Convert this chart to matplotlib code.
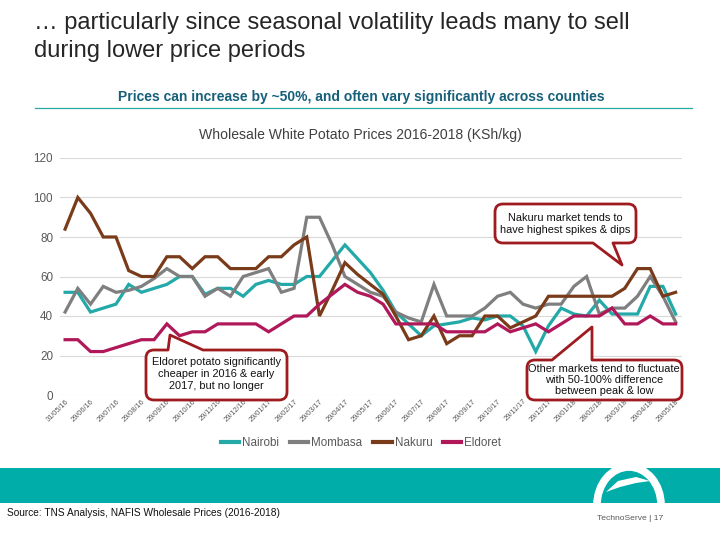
import matplotlib
matplotlib.use('Agg')
import matplotlib.pyplot as plt
from matplotlib.path import Path
from matplotlib.patches import PathPatch, Rectangle, Arc, Polygon
import numpy as np

plt.rcParams['font.family'] = ['Liberation Sans', 'DejaVu Sans']

# ---------------- data ----------------
tick_labels = ['31/05/16', '29/06/16', '29/07/16', '29/08/16', '29/09/16', '29/10/16',
               '29/11/16', '29/12/16', '29/01/17', '28/02/17', '29/03/17', '29/04/17',
               '29/05/17', '29/06/17', '29/07/17', '29/08/17', '29/09/17', '29/10/17',
               '29/11/17', '29/12/17', '29/01/18', '28/02/18', '29/03/18', '29/04/18',
               '29/05/18']

nairobi = [52, 52, 42, 44, 46, 56, 52, 54, 56, 60,
           60, 51, 54, 54, 50, 56, 58, 56, 56, 60,
           60, 68, 76, 69, 62, 53, 42, 36, 30, 35,
           36, 37, 39, 38, 40, 40, 35, 22, 35, 44,
           41, 40, 48, 41, 41, 41, 55, 55, 41]
mombasa = [42, 54, 46, 55, 52, 53, 55, 59, 64, 60,
           60, 50, 54, 50, 60, 62, 64, 52, 54, 90,
           90, 76, 60, 56, 52, 50, 42, 39, 37, 56,
           40, 40, 40, 44, 50, 52, 46, 44, 46, 46,
           55, 60, 41, 44, 44, 50, 60, 50, 37]
nakuru = [84, 100, 92, 80, 80, 63, 60, 60, 70, 70,
          64, 70, 70, 64, 64, 64, 70, 70, 76, 80,
          40, 53, 67, 61, 56, 51, 40, 28, 30, 40,
          26, 30, 30, 40, 40, 34, 37, 40, 50, 50,
          50, 50, 50, 50, 54, 64, 64, 50, 52]
eldoret = [28, 28, 22, 22, 24, 26, 28, 28, 36, 30,
           32, 32, 36, 36, 36, 36, 32, 36, 40, 40,
           46, 51, 56, 52, 50, 46, 36, 36, 36, 36,
           32, 32, 32, 32, 36, 32, 34, 36, 32, 36,
           40, 40, 40, 44, 36, 36, 40, 36, 36]

series_names = ['Nairobi', 'Mombasa', 'Nakuru', 'Eldoret']
series_colors = ['#23A9A8', '#7F7F7F', '#7A3B1A', '#B0185A']

W, H = 720, 540
fig = plt.figure(figsize=(7.2, 5.4), dpi=100)
fig.patch.set_facecolor('white')

def fx(x):
    return x / W

def fy(y):
    return 1 - y / H

# ---------------- header ----------------
fig.text(fx(34), fy(12), '\u2026 particularly since seasonal volatility leads many to sell\nduring lower price periods',
         fontsize=17, color='#262626', ha='left', va='top', linespacing=1.33)
fig.text(fx(361), fy(97), 'Prices can increase by ~50%, and often vary significantly across counties',
         fontsize=10, fontweight='bold', color='#17607A', ha='center', va='center')
fig.add_artist(plt.Line2D([fx(35), fx(692)], [fy(108), fy(108)], color='#2AA9A6', lw=0.9))
fig.text(fx(360), fy(135), 'Wholesale White Potato Prices 2016-2018 (KSh/kg)',
         fontsize=10.1, color='#404040', ha='center', va='center')

# ---------------- chart ----------------
ax = fig.add_axes([fx(60), fy(395), (682 - 60) / W, (395 - 158) / H])
x = np.arange(len(nakuru))
all_series = [nairobi, mombasa, nakuru, eldoret]
for i, (vals, name, col) in enumerate(zip(all_series, series_names, series_colors)):
    ax.plot(x, vals, color=col, lw=2.3, label=name, zorder=2 + i, solid_joinstyle='miter')

ax.set_xlim(-0.4, 48.5)
ax.set_ylim(0, 120)
ax.set_yticks(np.arange(0, 121, 20))
ax.yaxis.grid(True, color='#D9D9D9', lw=0.8)
ax.set_axisbelow(True)
for s in ax.spines.values():
    s.set_visible(False)
ax.tick_params(axis='y', length=0, labelsize=8.4, labelcolor='#595959', pad=5)
ax.set_xticks(np.arange(0, len(nakuru), 2))
ax.set_xticklabels(tick_labels, rotation=45, ha='right', rotation_mode='anchor',
                   fontsize=5.3, color='#595959')
ax.tick_params(axis='x', length=0, pad=2)

leg = fig.legend(loc='center', bbox_to_anchor=(fx(361), fy(443)), ncol=4, frameon=False,
                 fontsize=8.4, handlelength=1.6, handletextpad=0.25, columnspacing=0.9,
                 labelcolor='#595959')
for h in leg.legend_handles:
    h.set_linewidth(3)

# ---------------- callouts ----------------
def callout(x0, y0, x1, y1, r, side, b1, b2, tip):
    v = []
    c = []
    def mv(p):
        v.append(p); c.append(Path.MOVETO)
    def ln(p):
        v.append(p); c.append(Path.LINETO)
    def cv(ctrl, p):
        v.extend([ctrl, p]); c.extend([Path.CURVE3, Path.CURVE3])
    mv((x0 + r, y0))
    if side == 'top':
        ln((b1, y0)); ln(tip); ln((b2, y0))
    ln((x1 - r, y0)); cv((x1, y0), (x1, y0 + r))
    ln((x1, y1 - r)); cv((x1, y1), (x1 - r, y1))
    if side == 'bottom':
        ln((b2, y1)); ln(tip); ln((b1, y1))
    ln((x0 + r, y1)); cv((x0, y1), (x0, y1 - r))
    ln((x0, y0 + r)); cv((x0, y0), (x0 + r, y0))
    c.append(Path.CLOSEPOLY); v.append((x0 + r, y0))
    verts = [(fx(a), fy(b)) for a, b in v]
    p = PathPatch(Path(verts, c), transform=fig.transFigure, facecolor='white',
                  edgecolor='#9E1B1F', lw=2.0, zorder=10, joinstyle='round')
    fig.add_artist(p)

callout(495, 204, 636, 243, 8, 'bottom', 593, 613, (622, 265))
fig.text(fx(565), fy(224), 'Nakuru market tends to\nhave highest spikes & dips', fontsize=7.9,
         color='#111111', ha='center', va='center', linespacing=1.25, zorder=11)

callout(146, 350, 287, 400, 8, 'top', 168, 203, (170, 335))
fig.text(fx(216), fy(374), 'Eldoret potato significantly\ncheaper in 2016 & early\n2017, but no longer',
         fontsize=7.9, color='#111111', ha='center', va='center', linespacing=1.22, zorder=11)

callout(527, 360, 682, 400, 8, 'top', 552, 592, (592, 327))
fig.text(fx(604), fy(380), 'Other markets tend to fluctuate\nwith 50-100% difference\nbetween peak & low',
         fontsize=7.9, color='#111111', ha='center', va='center', linespacing=1.12, zorder=11)

# ---------------- footer ----------------
fig.add_artist(Rectangle((0, fy(503)), 1, (503 - 468) / H, transform=fig.transFigure,
                         facecolor='#00ADA8', edgecolor='none', zorder=1))
fig.add_artist(Arc((fx(629), fy(505)), 64 / W, 76 / H, theta1=0, theta2=180,
                   transform=fig.transFigure, color='white', lw=5.5, zorder=2))
leaf = Polygon([(fx(606), fy(492)), (fx(618), fy(481)), (fx(636), fy(477)), (fx(650), fy(481)),
                (fx(636), fy(483)), (fx(620), fy(487))], closed=True,
               transform=fig.transFigure, facecolor='white', edgecolor='none', zorder=2)
fig.add_artist(leaf)
fig.text(fx(7), fy(513), 'Source: TNS Analysis, NAFIS Wholesale Prices (2016-2018)', fontsize=7.3,
         color='#111111', ha='left', va='center')
fig.text(fx(597), fy(518), 'TechnoServe | 17', fontsize=6.1, color='#595959', ha='left', va='center')

fig.savefig('out.png', dpi=100, facecolor='white')
